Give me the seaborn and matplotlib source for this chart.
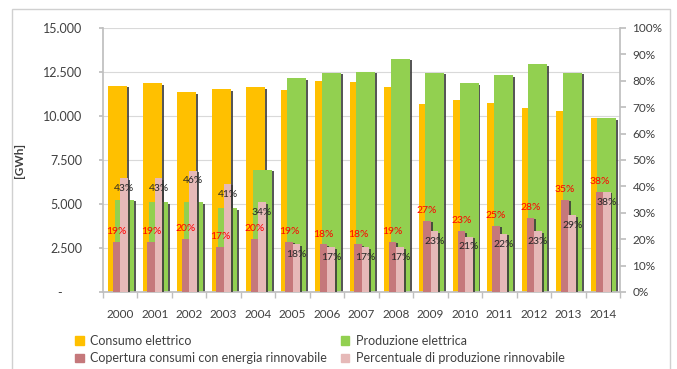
import numpy as np
import matplotlib
matplotlib.use("Agg")
import matplotlib.pyplot as plt
import matplotlib.patheffects as pe
from matplotlib.patches import Patch, Rectangle
from matplotlib.ticker import FuncFormatter
import seaborn as sns

# Annual electricity balance
years = [str(y) for y in range(2000, 2015)]
consumo = [11700, 11860, 11350, 11510, 11630, 11480, 11990, 11950, 11630,
           10670, 10910, 10760, 10440, 10270, 9870]          # GWh
produzione = [5230, 5090, 5090, 4760, 6930, 12140, 12460, 12520, 13240,
              12460, 11860, 12310, 12930, 12460, 9870]        # GWh
copertura = [19, 19, 20, 17, 20, 19, 18, 18, 19, 27, 23, 25, 28, 35, 38]     # %
percentuale = [43, 43, 46, 41, 34, 18, 17, 17, 17, 23, 21, 22, 23, 29, 38]   # %

gwh_ticks = list(range(0, 15001, 2500))
pct_ticks = list(range(0, 101, 10))

C_CONS = "#FFC000"
C_PROD = "#92D050"
C_COP = "#C5787B"
C_PERC = "#E6B9B8"
TXT = "#404040"
AXC = "#BFBFBF"

sns.set_theme(style="white")
plt.rcParams["font.family"] = ["Lato", "DejaVu Sans"]

W, H = 677, 369
fig = plt.figure(figsize=(W / 100, H / 100), dpi=100)
ax = fig.add_axes([103 / W, 1 - 292 / H, 517 / W, 264 / H])
ax2 = ax.twinx()

shadow = [pe.SimplePatchShadow(offset=(1.4, -1.0), shadow_rgbFace="#3a3a3a", alpha=0.85),
          pe.Normal()]


def draw_bars(target, values, color, width, shift):
    n0 = len(target.patches)
    sns.barplot(x=years, y=values, color=color, width=width, saturation=1,
                errorbar=None, linewidth=0, ax=target)
    for p in target.patches[n0:]:
        p.set_x(p.get_x() + shift)
        p.set_path_effects(shadow)


# primary axis: consumption and production (GWh)
draw_bars(ax, consumo, C_CONS, 0.55, -0.07)
draw_bars(ax, produzione, C_PROD, 0.55, 0.12)

# secondary axis: renewable shares (%)
S_COP, S_PERC = -0.10, 0.115
draw_bars(ax2, copertura, C_COP, 0.22, S_COP)
draw_bars(ax2, percentuale, C_PERC, 0.22, S_PERC)

for i, v in enumerate(copertura):
    ax2.annotate(f"{v}%", (i + S_COP, v), xytext=(0, 7.5), textcoords="offset points",
                 ha="center", va="center", color="#FF0000", fontsize=7.5)
for i, v in enumerate(percentuale):
    ax2.annotate(f"{v}%", (i + S_PERC, v), xytext=(0, -7.5), textcoords="offset points",
                 ha="center", va="center", color="#262626", fontsize=7.5)

# left axis
ax.set_ylim(0, 15000)
ax.set_yticks(gwh_ticks)
ax.yaxis.set_major_formatter(FuncFormatter(
    lambda v, _: "-      " if v == 0 else f"{v:,.0f}".replace(",", ".")))
ax.tick_params(axis="y", length=3, color=AXC, labelsize=9, labelcolor=TXT, pad=12)
ax.grid(axis="y", color="#D9D9D9", lw=0.8)
ax.set_axisbelow(True)
ax.set_ylabel("[GWh]", fontsize=8.5, fontweight="bold", color=TXT, labelpad=13)
ax.set_xlabel("")

# category axis
ax.set_xlim(-0.5, len(years) - 0.5)
ax.set_xticks(range(len(years)))
ax.set_xticklabels(years)
ax.set_xticks(np.arange(-0.5, len(years), 1), minor=True)
ax.tick_params(axis="x", which="major", length=0, labelsize=8.5, labelcolor=TXT, pad=12)
ax.tick_params(axis="x", which="minor", length=4, color=AXC, bottom=True)

# right axis
ax2.set_ylim(0, 100)
ax2.set_yticks(pct_ticks)
ax2.yaxis.set_major_formatter(FuncFormatter(lambda v, _: f"{v:.0f}%"))
ax2.tick_params(axis="y", length=4, color=AXC, labelsize=8.5, labelcolor=TXT, pad=5)
ax2.set_ylabel("")
ax2.set_xlabel("")
ax2.grid(False)

for s in ("top", "right"):
    ax.spines[s].set_visible(False)
for s in ("left", "bottom"):
    ax.spines[s].set_color(AXC)
for s in ("top", "left", "bottom"):
    ax2.spines[s].set_visible(False)
ax2.spines["right"].set_color(AXC)

# legend
handles = [Patch(color=C_CONS), Patch(color=C_COP), Patch(color=C_PROD), Patch(color=C_PERC)]
labels = ["Consumo elettrico", "Copertura consumi con energia rinnovabile",
          "Produzione elettrica", "Percentuale di produzione rinnovabile"]
fig.legend(handles, labels, ncol=2, loc="upper left", bbox_to_anchor=(75 / W, 1 - 335 / H),
           frameon=False, fontsize=9, handlelength=0.7, handleheight=0.7,
           handletextpad=0.5, columnspacing=1.1, labelspacing=0.42, borderpad=0,
           borderaxespad=0, labelcolor=TXT)

# chart frame
fig.add_artist(Rectangle((12 / W, -0.05), (670 - 12) / W, 1 - 9 / H + 0.05,
                         transform=fig.transFigure, fill=False, edgecolor="#D0D0D0", lw=1))

fig.savefig("out.png", dpi=100)
